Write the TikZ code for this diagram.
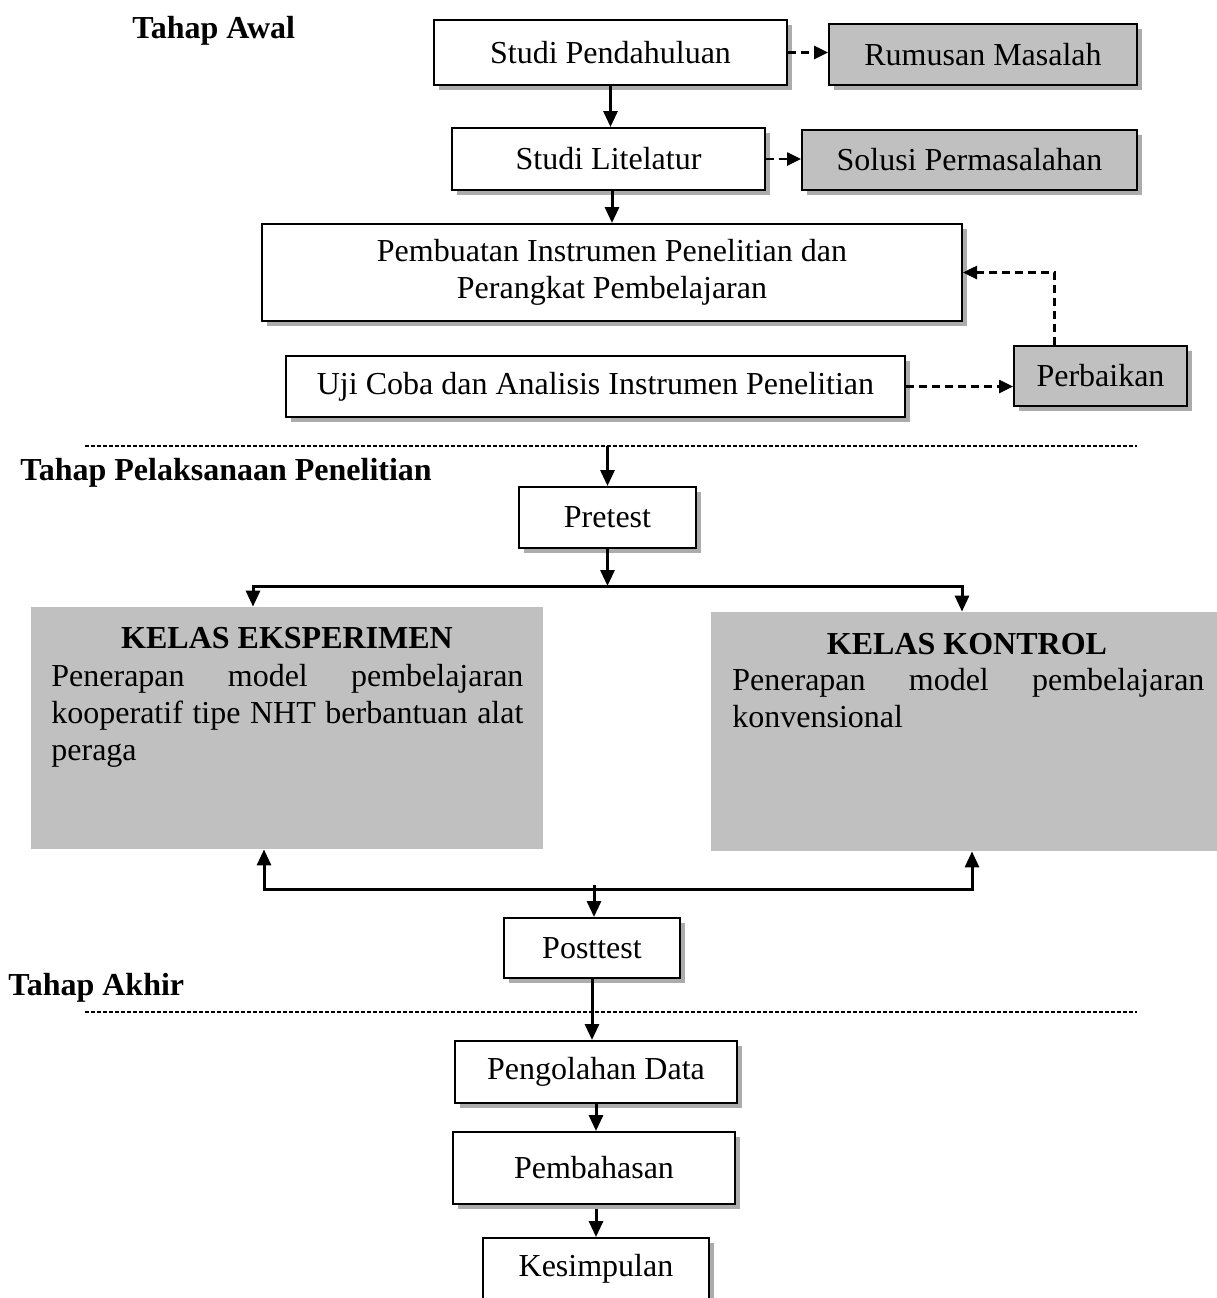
\documentclass[tikz,border=0pt]{standalone}
\usepackage{fontspec}
\setmainfont{Liberation Serif}
\usetikzlibrary{shadows,arrows.meta}
\definecolor{boxgray}{HTML}{C0C0C0}
\newcommand{\fullline}[1]{\makebox[236pt][s]{#1}}

\begin{document}
\begin{tikzpicture}[x=0.5pt, y=-0.5pt,
  every node/.style={font=\fontsize{16}{18.5}\selectfont},
  box/.style={draw, line width=1pt, fill=white, inner sep=0pt,
    drop shadow={shadow xshift=2.5pt, shadow yshift=-2.5pt, fill=gray!65, opacity=1}},
  kelas/.style={fill=boxgray, minimum width=256pt, inner sep=0pt},
  stage/.style={anchor=base west, inner sep=0pt, font=\fontsize{16}{18.5}\selectfont\bfseries},
  desc/.style={anchor=north west, inner sep=0pt, text width=236pt, align=left},
  arr/.style={line width=1.5pt, -{Triangle[length=8pt,width=7pt]}},
  darr/.style={line width=1.3pt, dash pattern=on 4pt off 2.5pt, -{Triangle[length=7pt,width=6.5pt]}},
  sep/.style={line width=0.6pt, dash pattern=on 1.8pt off 1.2pt}]
  \useasboundingbox (0,0) rectangle (1217,1298);

  % tahap awal
  \node[stage] (awal) at (132,38.5) {Tahap Awal};
  \node[box, minimum width=176.5pt, minimum height=32.5pt] (studi) at (610.5,52.5) {Studi Pendahuluan};
  \node[box, fill=boxgray, minimum width=154pt, minimum height=30.5pt] (rumusan) at (983,54.5) {Rumusan Masalah};
  \node[box, minimum width=156.5pt, minimum height=31pt] (litelatur) at (608.5,159) {Studi Litelatur};
  \node[box, fill=boxgray, minimum width=167.5pt, minimum height=30pt] (solusi) at (969.5,160) {Solusi Permasalahan};
  \node[box, align=center, minimum width=350pt, minimum height=48.5pt] (instrumen) at (612,272.5)
    {Pembuatan Instrumen Penelitian dan\\Perangkat Pembelajaran};
  \node[box, minimum width=309.5pt, minimum height=30.5pt] (ujicoba) at (595.5,386.5) {Uji Coba dan Analisis Instrumen Penelitian};
  \node[box, fill=boxgray, minimum width=86.5pt, minimum height=30pt] (perbaikan) at (1100.5,376) {Perbaikan};

  \draw[darr] (studi.east) -- (studi.east -| rumusan.west);
  \draw[arr] (studi.south) -- (studi.south |- litelatur.north);
  \draw[darr] (litelatur.east) -- (litelatur.east -| solusi.west);
  \draw[arr] (instrumen.north |- litelatur.south) -- (instrumen.north);
  \draw[darr] (ujicoba.east) -- (ujicoba.east -| perbaikan.west);
  \draw[darr] ([xshift=-23pt]perbaikan.north) |- (instrumen.east);

  \draw[sep] (85,446) -- (1137,446);
  \coordinate (garis1) at (607.5,446);

  % tahap pelaksanaan
  \node[stage] (pelaksanaan) at (20,480.5) {Tahap Pelaksanaan Penelitian};
  \node[box, minimum width=88.5pt, minimum height=30.5pt] (pretest) at (607.5,517.5) {Pretest};
  \node[kelas, minimum height=121pt] (eksperimen) at (287,728) {};
  \node[kelas, minimum height=119.5pt] (kontrol) at (967,731.5) {};
  \node[anchor=base] (judulA) at (287,648.5) {\bfseries KELAS EKSPERIMEN};
  \node[desc] (isiA) at (51,664) {\fullline{Penerapan\hfill model\hfill pembelajaran}\\
    \fullline{kooperatif\hfill tipe\hfill NHT\hfill berbantuan\hfill alat}\\peraga};
  \node[anchor=base] (judulB) at (967,654.5) {\bfseries KELAS KONTROL};
  \node[desc] (isiB) at (732,668) {\fullline{Penerapan\hfill model\hfill pembelajaran}\\konvensional};
  \node[box, minimum width=88pt, minimum height=30pt] (posttest) at (592,948) {Posttest};

  \coordinate (cabang) at (607.5,586);
  \coordinate (gabung) at (594,889);
  \draw[arr] (garis1) -- (pretest.north);
  \draw[arr] (pretest.south) -- (cabang);
  \draw[arr] (cabang) -| ([xshift=-17pt]eksperimen.north);
  \draw[arr] (cabang) -| ([xshift=-2.5pt]kontrol.north);
  \draw[arr] (gabung) -| ([xshift=-11.5pt]eksperimen.south);
  \draw[arr] (gabung) -| ([xshift=2.5pt]kontrol.south);
  \draw[arr] ([yshift=2pt]gabung) -- (gabung |- posttest.north);

  % tahap akhir
  \node[stage] (akhir) at (8,995.5) {Tahap Akhir};
  \draw[sep] (85,1012) -- (1137,1012);
  \node[box, minimum width=141pt, minimum height=31pt] (olah) at (596,1072) {Pengolahan Data};
  \node[box, minimum width=141pt, minimum height=36pt] (bahas) at (594,1168) {Pembahasan};
  \node[box, minimum width=113pt, minimum height=31pt] (simpul) at (596,1269) {Kesimpulan};

  \draw[arr] (posttest.south) -- (posttest.south |- olah.north);
  \draw[arr] (olah.south) -- (olah.south |- bahas.north);
  \draw[arr] ([yshift=-2pt]simpul.north |- bahas.south) -- (simpul.north);
\end{tikzpicture}
\end{document}
